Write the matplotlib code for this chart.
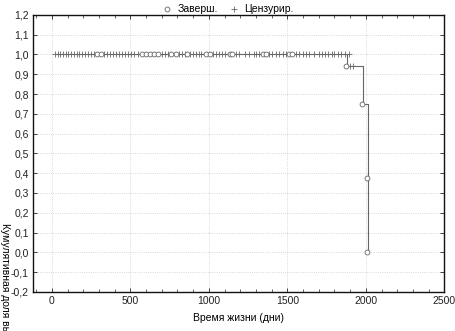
import matplotlib
matplotlib.use("Agg")
import matplotlib.pyplot as plt
from matplotlib.ticker import MultipleLocator, FuncFormatter

plt.rcParams["font.family"] = ["Liberation Sans", "DejaVu Sans"]

# step curve of cumulative survival
step_t = [20, 1880, 1985, 2012, 2012]
step_s = [1.0, 0.94, 0.75, 0.375, 0.0]

# completed observations (circles)
done_t = [290, 312, 575, 598, 622, 648, 675, 762, 790, 862, 985, 1005,
          1132, 1150, 1345, 1362, 1510, 1530, 1872, 1978, 2010, 2008]
done_s = [1.0, 1.0, 1.0, 1.0, 1.0, 1.0, 1.0, 1.0, 1.0, 1.0, 1.0, 1.0,
          1.0, 1.0, 1.0, 1.0, 1.0, 1.0, 0.94, 0.75, 0.375, 0.0]

# censored observations (plus marks)
cens_t = [20, 38, 55, 72, 88, 105, 122, 140, 158, 175, 195, 212, 232, 250,
          268, 335, 352, 372, 392, 410, 428, 448, 468, 488, 505, 525, 548,
          700, 718, 738, 812, 830, 848, 880, 900, 918, 935, 952, 1025, 1045,
          1065, 1085, 1105, 1170, 1195, 1230, 1258, 1285, 1302, 1322, 1385,
          1405, 1430, 1448, 1470, 1490, 1552, 1575, 1598, 1618, 1640, 1670,
          1700, 1718, 1738, 1760, 1782, 1800, 1822, 1845, 1865, 1890,
          1900, 1918]
cens_s = [1.0] * 72 + [0.94, 0.94]

col = "#666666"

fig = plt.figure(figsize=(4.56, 3.31), dpi=100)
ax = fig.add_axes([0.0724, 0.118, 0.902, 0.837])

ax.step(step_t, step_s, where="post", color=col, lw=0.8, zorder=2)
ax.plot(cens_t, cens_s, ls="none", marker="+", ms=4, mew=0.6, color=col,
        zorder=3, label="Цензурир.")
ax.plot(done_t, done_s, ls="none", marker="o", ms=3.5, mew=0.6, mfc="white",
        mec=col, zorder=4, label="Заверш.")

ax.set_xlim(-120, 2500)
ax.set_ylim(-0.2, 1.2)
ax.xaxis.set_major_locator(MultipleLocator(500))
ax.xaxis.set_minor_locator(MultipleLocator(100))
ax.yaxis.set_major_locator(MultipleLocator(0.1))
ax.yaxis.set_major_formatter(FuncFormatter(lambda v, p: f"{v:.1f}".replace(".", ",").replace("-0,0", "0,0")))
ax.tick_params(which="both", direction="in", top=True, right=True,
               labelsize=7.5, colors="#222222", pad=3)
ax.tick_params(which="major", length=3, width=0.6)
ax.tick_params(which="minor", length=2, width=0.5)
ax.grid(True, which="major", color="#cccccc", ls=":", lw=0.6)
for sp in ax.spines.values():
    sp.set_linewidth(1.0)
    sp.set_color("#111111")

ax.set_xlabel("Время жизни (дни)", fontsize=7.5, labelpad=5)
fig.text(0.012, 0.326, "Кумулятивная доля выживших", rotation=270,
         fontsize=7.5, ha="center", va="top")

h, l = ax.get_legend_handles_labels()
fig.legend(h[::-1], l[::-1], loc="upper center", bbox_to_anchor=(0.5, 1.015),
           ncol=2, frameon=False, fontsize=7.5, handlelength=1.0,
           columnspacing=1.0, handletextpad=0.5)

fig.savefig("out.png", dpi=100)
